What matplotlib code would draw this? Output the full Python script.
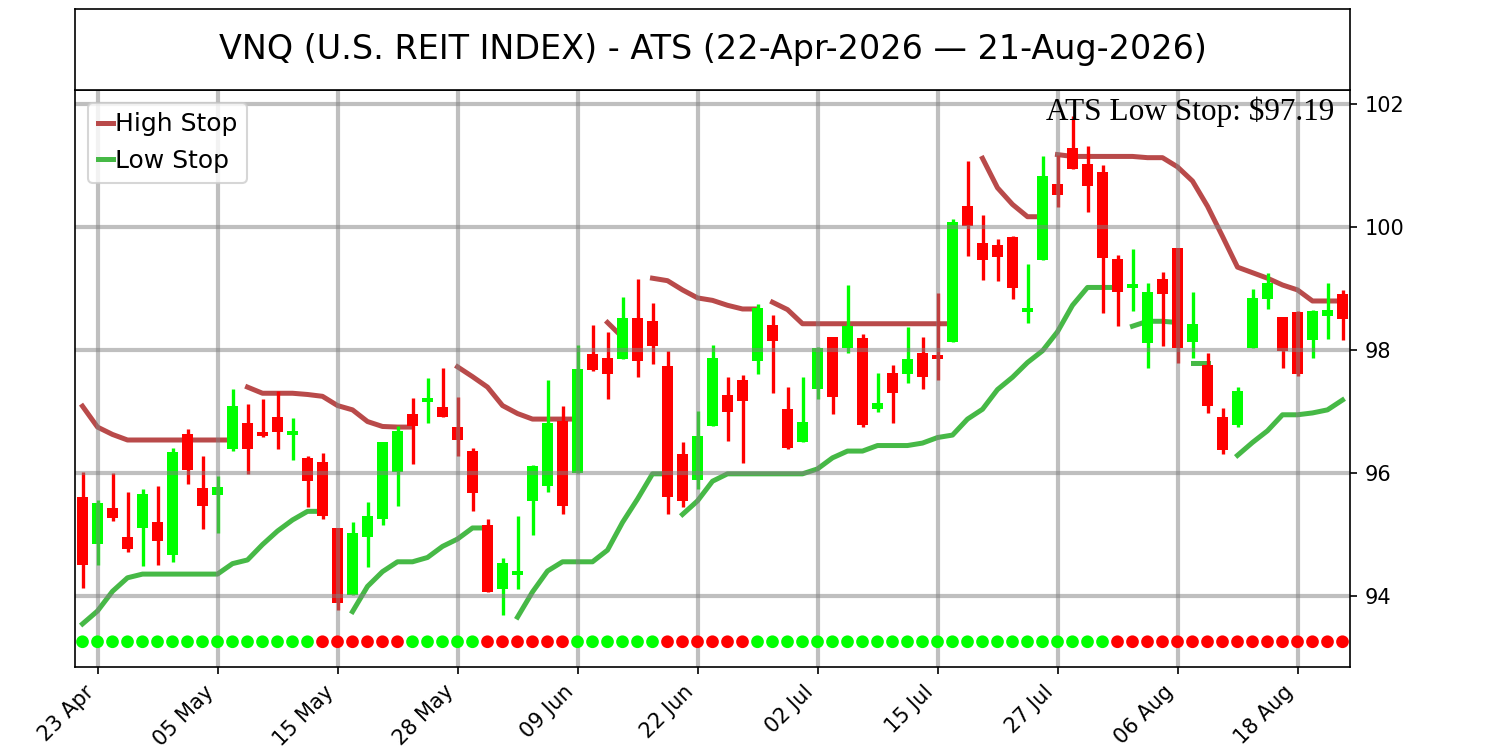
import matplotlib
matplotlib.use('Agg')
import matplotlib.pyplot as plt
import numpy as np
import pandas as pd

nan = np.nan

# trading days 22-Apr-2026 .. 21-Aug-2026 (market holidays removed)
holidays = ['2026-05-25', '2026-06-19', '2026-07-03']
dates = pd.bdate_range('2026-04-22', '2026-08-21', freq='C', holidays=holidays)

opens = [95.61, 94.85, 95.44, 94.96, 95.11, 95.20, 94.67, 96.63, 95.76, 95.64,
         96.39, 96.81, 96.67, 96.91, 96.62, 96.25, 96.18, 95.11, 94.02, 94.97,
         95.25, 96.02, 96.97, 97.15, 97.07, 96.75, 96.36, 95.15, 94.12, 94.34,
         95.55, 95.79, 96.85, 96.01, 97.93, 97.87, 97.85, 98.52, 98.48, 97.74,
         96.32, 95.89, 96.76, 97.27, 97.51, 97.82, 98.41, 97.04, 96.51, 97.37,
         98.21, 98.04, 98.20, 97.05, 97.63, 97.62, 97.96, 97.92, 98.14, 100.34,
         99.74, 99.71, 99.84, 98.62, 99.47, 100.70, 101.29, 101.02, 100.89, 99.49,
         99.01, 98.11, 99.16, 99.66, 98.14, 97.76, 96.91, 96.79, 98.04, 98.83,
         98.54, 98.62, 98.17, 98.56, 98.91]
highs = [96.02, 95.56, 96.01, 95.70, 95.74, 95.80, 96.41, 96.72, 96.28, 95.95,
         97.37, 97.13, 97.20, 97.33, 96.90, 96.28, 96.33, 95.11, 95.20, 95.54,
         96.51, 96.76, 97.22, 97.55, 97.71, 97.24, 96.41, 95.25, 94.62, 95.31,
         96.14, 97.51, 97.10, 98.09, 98.41, 98.29, 98.86, 99.16, 98.76, 97.99,
         96.51, 97.01, 98.08, 97.56, 97.59, 98.75, 98.57, 97.40, 97.57, 98.05,
         98.21, 99.06, 98.26, 97.63, 97.76, 98.38, 98.21, 98.93, 100.14, 101.08,
         100.20, 99.81, 99.85, 99.40, 101.15, 101.18, 101.81, 101.32, 101.01, 99.54,
         99.65, 99.09, 99.27, 99.66, 98.94, 97.96, 97.06, 97.40, 99.00, 99.25,
         98.54, 98.64, 98.66, 99.09, 98.98]
lows = [94.13, 94.51, 95.22, 94.72, 94.49, 94.51, 94.56, 95.82, 95.09, 95.03,
        96.36, 95.99, 96.59, 96.39, 96.21, 95.45, 95.25, 93.78, 94.02, 94.47,
        95.15, 95.47, 96.15, 96.82, 96.92, 96.28, 95.39, 94.07, 93.69, 94.12,
        94.99, 95.70, 95.34, 96.01, 97.66, 97.21, 97.85, 97.56, 97.77, 95.34,
        95.45, 95.74, 96.76, 96.53, 96.17, 97.62, 97.30, 96.40, 96.50, 97.20,
        96.97, 97.95, 96.75, 96.99, 96.81, 97.46, 97.37, 97.52, 98.14, 99.53,
        99.14, 99.12, 98.83, 98.44, 99.47, 100.33, 100.95, 100.25, 98.60, 98.40,
        98.64, 97.71, 98.07, 97.79, 97.88, 96.98, 96.31, 96.75, 98.04, 98.67,
        97.71, 97.58, 97.88, 98.18, 98.17]
closes = [94.51, 95.52, 95.28, 94.77, 95.67, 94.89, 96.35, 96.05, 95.46, 95.77,
          97.10, 96.39, 96.61, 96.67, 96.69, 95.88, 95.31, 93.89, 95.03, 95.30,
          96.51, 96.69, 96.76, 97.23, 96.92, 96.54, 95.68, 94.07, 94.54, 94.41,
          96.11, 96.81, 95.46, 97.69, 97.67, 97.61, 98.52, 97.83, 98.07, 95.61,
          95.55, 96.60, 97.87, 97.00, 97.18, 98.69, 98.15, 96.41, 96.83, 98.04,
          97.24, 98.39, 96.79, 97.14, 97.31, 97.86, 97.57, 97.85, 100.09, 100.02,
          99.47, 99.51, 99.01, 98.69, 100.83, 100.53, 100.95, 100.67, 99.50, 98.95,
          99.08, 98.95, 98.92, 98.04, 98.43, 97.10, 96.37, 97.34, 98.85, 99.09,
          97.99, 97.62, 98.64, 98.65, 98.50]

high_stop = [97.09, 96.75, 96.63, 96.54, 96.54, 96.54, 96.54, 96.54, 96.54, 96.54,
             96.54, 97.40, 97.30, 97.30, 97.30, 97.28, 97.25, 97.10, 97.03, 96.84,
             96.76, 96.75, 96.75, nan, nan, 97.73, 97.57, 97.40, 97.10, 96.97,
             96.88, 96.88, 96.88, 96.88, nan, 98.45, 98.21, nan, 99.17, 99.13,
             98.98, 98.85, 98.81, 98.73, 98.67, 98.67, 98.78, 98.66, 98.43, 98.43,
             98.43, 98.43, 98.43, 98.43, 98.43, 98.43, 98.43, 98.43, 98.43, nan,
             101.12, 100.64, 100.37, 100.17, 100.17, 101.18, 101.15, 101.15, 101.15, 101.15,
             101.15, 101.13, 101.13, 100.98, 100.75, 100.34, 99.85, 99.35, 99.26, 99.17,
             99.06, 98.98, 98.80, 98.80, 98.80]
low_stop = [93.55, 93.76, 94.08, 94.30, 94.36, 94.36, 94.36, 94.36, 94.36, 94.36,
            94.53, 94.59, 94.84, 95.06, 95.24, 95.38, 95.38, nan, 93.75, 94.16,
            94.40, 94.56, 94.56, 94.63, 94.81, 94.93, 95.11, 95.11, nan, 93.66,
            94.07, 94.41, 94.56, 94.56, 94.56, 94.75, 95.20, 95.58, 95.99, 95.99,
            95.33, 95.55, 95.87, 95.99, 95.99, 95.99, 95.99, 95.99, 95.99, 96.07,
            96.25, 96.36, 96.36, 96.45, 96.45, 96.45, 96.49, 96.58, 96.62, 96.88,
            97.04, 97.36, 97.56, 97.80, 97.99, 98.30, 98.73, 99.02, 99.02, 99.02,
            98.39, 98.47, 98.47, 98.45, 97.79, 97.79, nan, 96.29, 96.50, 96.69,
            96.95, 96.95, 96.98, 97.03, 97.19]
# bars where a new stop segment starts right after the previous one
high_breaks = [11, 46, 65]
low_breaks = [40, 70, 74]

# trend dots along the bottom: G = up, R = down
trend = ('GGGGGGGGGGGGGGGG' 'RRRRRR' 'GGGGG' 'RRRRRR' 'GGGGGG' 'RRRRRR'
         'GGGGGGGGGGGGGGGGGGGGGGGG' 'RRRRRRRRRRRRRRRR')

title = 'VNQ (U.S. REIT INDEX) - ATS (22-Apr-2026 \u2014 21-Aug-2026)'


def segments(vals, breaks):
    segs, cur = [], []
    for i, v in enumerate(vals):
        if np.isnan(v) or i in breaks:
            if len(cur) > 1:
                segs.append(cur)
            cur = []
        if not np.isnan(v):
            cur.append(i)
    if len(cur) > 1:
        segs.append(cur)
    return segs


def plot_stop(ax, vals, breaks, color, label):
    vals = np.array(vals)
    for k, seg in enumerate(segments(vals, breaks)):
        ax.plot(seg, vals[seg], color=color, lw=2.4, zorder=1.2,
                label=label if k == 0 else None)


o = np.array(opens)
h = np.array(highs)
l = np.array(lows)
c = np.array(closes)
x = np.arange(len(dates))
cols = np.where(c >= o, '#00ff00', '#ff0000')

fig = plt.figure(figsize=(10, 5), dpi=150)
ax = fig.add_axes([0.05, 0.1107, 0.85, 0.7693])
tax = fig.add_axes([0.05, 0.88, 0.85, 0.108])
tax.set_xticks([])
tax.set_yticks([])
tax.text(0.5, 0.5, title, ha='center', va='center', fontsize=16)

plot_stop(ax, high_stop, high_breaks, '#b94a4a', 'High Stop')
plot_stop(ax, low_stop, low_breaks, '#46b946', 'Low Stop')

ax.vlines(x, l, h, colors=cols, lw=1.6, zorder=1.3)
ax.bar(x, np.maximum(np.abs(c - o), 0.02), bottom=np.minimum(o, c), width=0.7,
       color=cols, zorder=1.3)

dot_cols = ['#00ff00' if t == 'G' else '#ff0000' for t in trend]
ax.scatter(x, np.full(len(x), 93.26), s=26, c=dot_cols, zorder=3)

ax.text(0.988, 0.988, 'ATS Low Stop: $%.2f' % low_stop[-1], transform=ax.transAxes,
        ha='right', va='top', fontsize=15, family='Liberation Serif')

ax.set_xlim(-0.5, len(x) - 0.5)
ax.set_ylim(92.85, 102.23)
ax.set_xticks(x[1::8])
ax.set_xticklabels(dates[1::8].strftime('%d %b'), rotation=45, ha='right')
ax.yaxis.tick_right()
ax.set_yticks([94, 96, 98, 100, 102])
ax.grid(True, color='gray', alpha=0.5, lw=2)

ax.legend(loc='upper left', bbox_to_anchor=(0.0, 1.0), fontsize=12,
          handlelength=0.6, handletextpad=0.1, borderaxespad=0.5)

fig.savefig('out.png', dpi=150)
